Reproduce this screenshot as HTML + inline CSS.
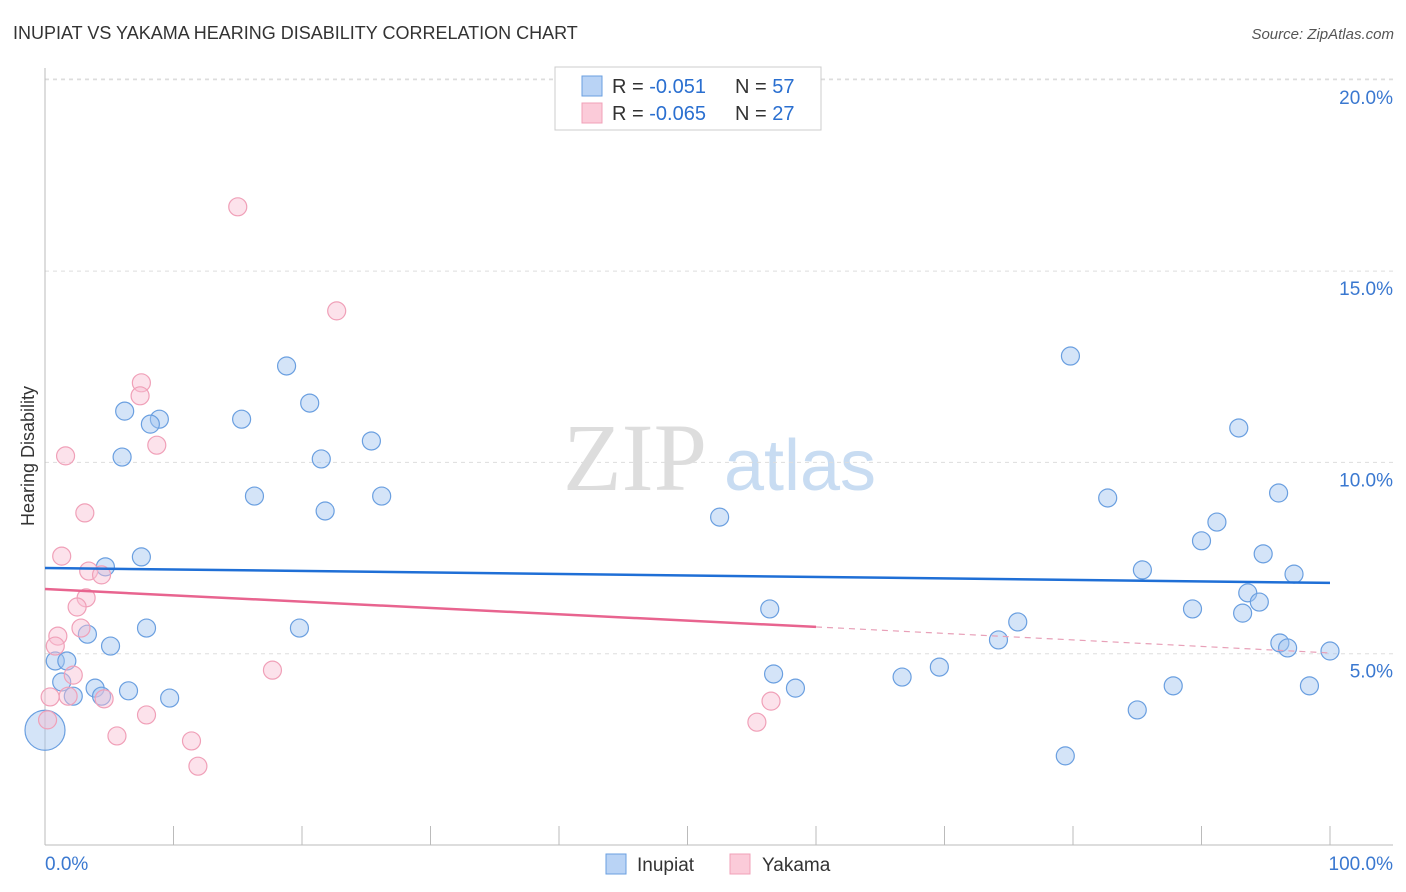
<!DOCTYPE html>
<html><head><meta charset="utf-8"><style>
body{margin:0;background:#fff;font-family:"Liberation Sans",sans-serif}
svg{display:block}
</style></head><body>
<svg id="c" width="1406" height="892">
<text x="13" y="39" font-size="18" fill="#333">INUPIAT VS YAKAMA HEARING DISABILITY CORRELATION CHART</text>
<text x="1394" y="39" font-size="15" fill="#555" font-style="italic" text-anchor="end">Source: ZipAtlas.com</text>
<text x="34" y="456" font-size="18" fill="#333" text-anchor="middle" transform="rotate(-90 34 456)">Hearing Disability</text>
<g><text x="635" y="490" font-size="96" font-family="Liberation Serif" fill="#ddd" text-anchor="middle">ZIP</text><text x="800" y="490" font-size="72" fill="#c8dcf2" text-anchor="middle">atlas</text></g>
<g id="grid"></g><g id="marks"></g>
<g>
<rect x="555" y="67" width="266" height="63" fill="#fff" stroke="#ccc"/>
<rect x="582" y="76" width="20" height="20" fill="#b9d3f5" stroke="#6a9fe0"/>
<rect x="582" y="103" width="20" height="20" fill="#fbcbd9" stroke="#f0a0b8"/>
<text x="612" y="93" font-size="20" fill="#333">R = <tspan fill="#2a6fd0">-0.051</tspan></text>
<text x="735" y="93" font-size="20" fill="#333">N = <tspan fill="#2a6fd0">57</tspan></text>
<text x="612" y="120" font-size="20" fill="#333">R = <tspan fill="#2a6fd0">-0.065</tspan></text>
<text x="735" y="120" font-size="20" fill="#333">N = <tspan fill="#2a6fd0">27</tspan></text>
</g>
<g>
<rect x="606" y="854" width="20" height="20" fill="#b9d3f5" stroke="#6a9fe0"/>
<text x="637" y="871" font-size="19" fill="#333">Inupiat</text>
<rect x="730" y="854" width="20" height="20" fill="#fbcbd9" stroke="#f0a0b8"/>
<text x="762" y="871" font-size="19" fill="#333">Yakama</text>
</g>
</svg>
<script>
const yTicks=[5,10,15,20];
const yTickLabels=["5.0%","10.0%","15.0%","20.0%"];
const xTickLabels=["0.0%","100.0%"];
const inupiatX=[47.2,6.2,8.9,8.2,6.0,15.3,18.8,20.6,21.5,25.4,16.3,26.2,21.8,4.7,7.5,3.3,7.9,5.1,0.8,1.7,1.3,2.2,3.9,4.4,6.5,9.7,19.8,0,52.5,56.4,56.7,58.4,66.7,69.6,74.2,75.7,79.8,82.7,85.4,85.0,79.4,87.8,89.3,90.0,91.2,92.9,93.6,94.5,93.2,94.8,96.0,97.2,96.1,96.7,100,98.4];
const inupiatY=[19.6,11.34,11.13,11.0,10.14,11.13,12.52,11.55,10.09,10.56,9.12,9.12,8.73,7.27,7.53,5.51,5.67,5.2,4.81,4.81,4.26,3.89,4.1,3.89,4.03,3.84,5.67,3.0,8.57,6.17,4.47,4.1,4.39,4.65,5.36,5.83,12.78,9.07,7.19,3.53,2.33,4.16,6.17,7.95,8.44,10.9,6.59,6.35,6.06,7.61,9.2,7.08,5.28,5.15,5.07,4.16];
const yakamaX=[15.0,22.7,7.5,7.4,8.7,1.6,3.1,1.3,3.4,4.4,3.2,2.5,2.8,1.0,0.8,2.2,1.8,4.6,0.4,0.2,5.6,7.9,11.4,11.9,17.7,56.5,55.4];
const yakamaY=[16.68,13.96,12.08,11.74,10.45,10.17,8.68,7.55,7.16,7.06,6.46,6.22,5.67,5.46,5.2,4.44,3.89,3.82,3.87,3.27,2.85,3.4,2.72,2.06,4.57,3.76,3.21];
const inupiatTrend=[7.24,6.85];
const yakamaTrend=[6.69,5.70,5.02];
const yakamaTrendX=[0,60,100];
const X=v=>45+v*12.85, Y=v=>845-v*38.26;
const ns="http://www.w3.org/2000/svg";
function mk(p,t,a){const e=document.createElementNS(ns,t);for(const k in a)e.setAttribute(k,a[k]);p.appendChild(e);return e;}
const g=document.getElementById('grid'), m=document.getElementById('marks');
yTicks.forEach((t,i)=>{
 const l=mk(g,'line',{x1:45,x2:1393,y1:Y(t),y2:Y(t),stroke:'#ddd','stroke-dasharray':'4,4'});
 
 
 const tx=mk(g,'text',{x:1393,y:Y(t)+24,'font-size':19,fill:'#3a78d0','text-anchor':'end'});tx.textContent=yTickLabels[i];
 
 
});
const topLine=mk(g,'line',{x1:45,x2:1393,y1:79,y2:79,stroke:'#ddd','stroke-dasharray':'4,4'});


mk(g,'line',{x1:45,x2:45,y1:68,y2:845,stroke:'#bbb'});
mk(g,'line',{x1:45,x2:1393,y1:845,y2:845,stroke:'#bbb'});
for(let i=0;i<=10;i++){const t=mk(g,'line',{x1:X(i*10),x2:X(i*10),y1:826,y2:845,stroke:'#bbb'});
 
 }
[[0,'start',xTickLabels[0]],[100,'end',xTickLabels[1]]].forEach(a=>{const t=mk(g,'text',{x:a[0]?1393:45,y:870,'font-size':19,fill:'#3a78d0','text-anchor':a[1]});t.textContent=a[2];
 
 });
inupiatX.forEach((x,i)=>{const c=mk(m,'circle',{cx:X(x),cy:Y(inupiatY[i]),r:x===0?20:9,fill:'rgba(160,196,240,0.45)',stroke:'#6a9fe0','stroke-width':1.2});
 
 });
yakamaX.forEach((x,i)=>{const c=mk(m,'circle',{cx:X(x),cy:Y(yakamaY[i]),r:9,fill:'rgba(248,190,210,0.45)',stroke:'#f0a0b8','stroke-width':1.2});
 
 });
const bl=mk(m,'line',{x1:X(0),x2:X(100),y1:Y(inupiatTrend[0]),y2:Y(inupiatTrend[1]),stroke:'#1f6fd6','stroke-width':2.5});


const pl=mk(m,'line',{x1:X(yakamaTrendX[0]),x2:X(yakamaTrendX[1]),y1:Y(yakamaTrend[0]),y2:Y(yakamaTrend[1]),stroke:'#e8648f','stroke-width':2.5});


const pd=mk(m,'line',{x1:X(yakamaTrendX[1]),x2:X(yakamaTrendX[2]),y1:Y(yakamaTrend[1]),y2:Y(yakamaTrend[2]),stroke:'#e8a0b8','stroke-width':1.2,'stroke-dasharray':'6,5'});


</script>
</body></html>
